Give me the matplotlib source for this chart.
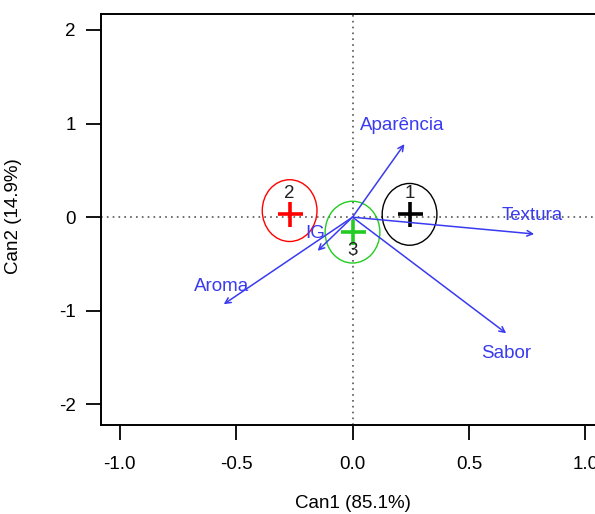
import numpy as np
import matplotlib
matplotlib.use('Agg')
from matplotlib import pyplot as plt
from matplotlib.patches import Ellipse

plt.rcParams['font.family'] = ['Liberation Sans', 'DejaVu Sans']

# group means on the canonical axes
groups = ['1', '2', '3']
gx = [0.245, -0.27, 0.0]
gy = [0.03, 0.03, -0.16]
gcol = ['black', 'red', '#22cc22']

# variable structure vectors
vars_ = ['Aparência', 'Textura', 'Sabor', 'Aroma', 'IG']
vx = [0.223, 0.78, 0.66, -0.553, -0.15]
vy = [0.78, -0.18, -1.24, -0.93, -0.36]

fig = plt.figure(figsize=(5.95, 5.14), dpi=100)
ax = fig.add_axes([101/595, 89/514, 503/595, 411/514])
ax.set_xlim(-1.08, 1.08)
ax.set_ylim(-2.22, 2.17)

ax.axhline(0, color='#555555', ls=(0, (1, 2.5)), lw=1.2, zorder=0)
ax.axvline(0, color='#555555', ls=(0, (1, 2.5)), lw=1.2, zorder=0)

blue = '#3a3af0'
for n, x, y in zip(vars_, vx, vy):
    ax.annotate('', xy=(x, y), xytext=(0, 0),
                arrowprops=dict(arrowstyle='->', color=blue, lw=1.1,
                                shrinkA=0, shrinkB=0, mutation_scale=10))
lab_off = {'Aparência': (-0.01, 0.2), 'Textura': (-0.01, 0.2), 'Sabor': (0.0, -0.22),
           'Aroma': (-0.01, 0.19), 'IG': (-0.01, 0.19)}
for n, x, y in zip(vars_, vx, vy):
    dx, dy = lab_off[n]
    ax.text(x + dx, y + dy, n, color=blue, fontsize=13.5, ha='center', va='center')

for g, x, y, c in zip(groups, gx, gy, gcol):
    ax.plot(x, y, marker='+', color=c, ms=18, mew=2.6, ls='none')
    cy = y if g != '2' else y + 0.04
    ax.add_patch(Ellipse((x, cy), 0.235, 0.66, fill=False, ec=c, lw=1))
    off = 0.22 if g != '3' else -0.2
    ax.text(x, y + off, g, color='#222222', fontsize=13.5, ha='center', va='center')

ax.set_xticks([-1.0, -0.5, 0.0, 0.5, 1.0])
ax.set_xticklabels(['-1.0', '-0.5', '0.0', '0.5', '1.0'])
ax.set_yticks([-2, -1, 0, 1, 2])
ax.set_yticklabels(['-2', '-1', '0', '1', '2'])
ax.tick_params(direction='out', length=11, width=1.3, labelsize=13.5, pad=6)
ax.tick_params(axis='x', pad=11)
ax.tick_params(axis='y', pad=7)
for s in ax.spines.values():
    s.set_linewidth(1.4)

fig.text(353/595, 1 - 503/514, 'Can1 (85.1%)', ha='center', va='center', fontsize=13.5)
fig.text(14/595, 1 - 216/514, 'Can2 (14.9%)', ha='center', va='center', fontsize=13.5, rotation=90)

fig.savefig('out.png', dpi=100)
